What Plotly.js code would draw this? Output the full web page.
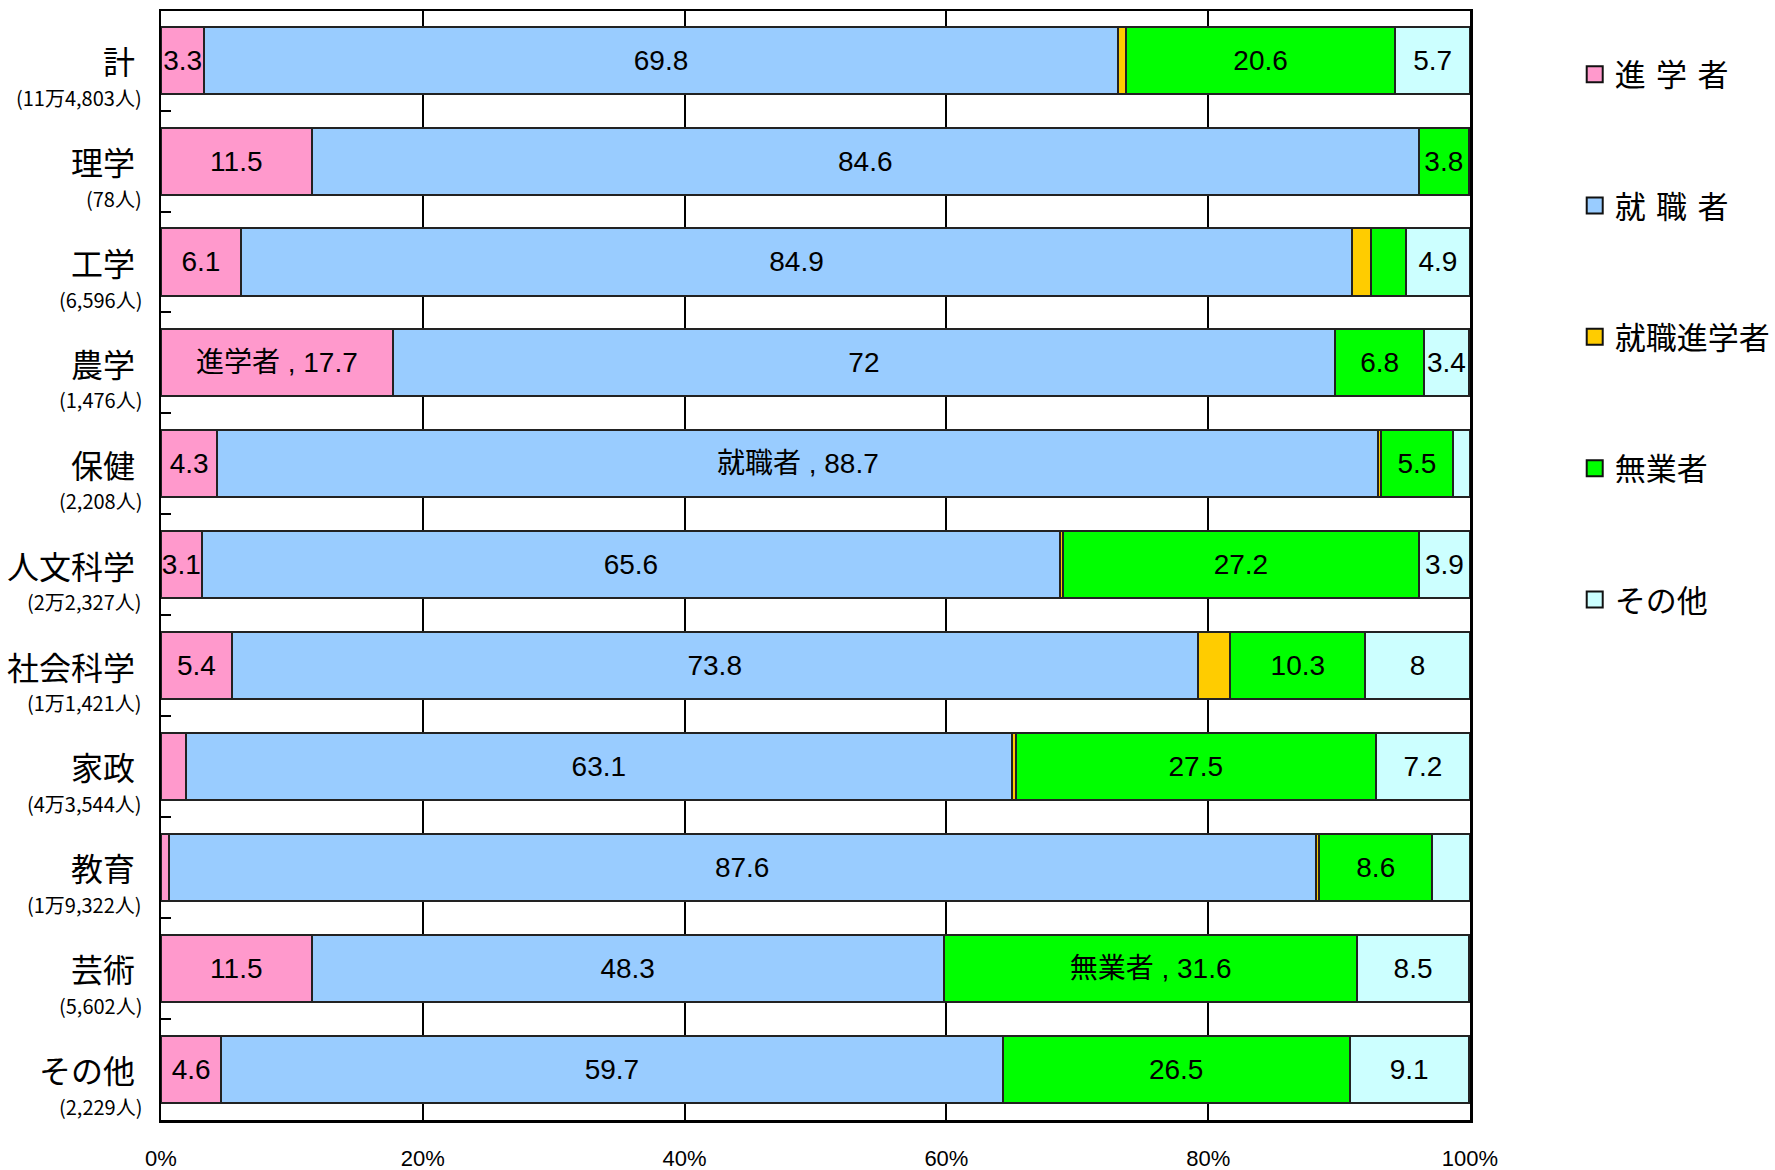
<!DOCTYPE html>
<html>
<head>
<meta charset="utf-8">
<script src="https://cdn.plot.ly/plotly-3.0.1.min.js"></script>
<style>html,body{margin:0;padding:0;background:#fff;}#chart{width:1775px;height:1170px;}</style>
</head>
<body>
<div id="chart"></div>
<script>
const categories = ['計','理学','工学','農学','保健','人文科学','社会科学','家政','教育','芸術','その他'];
const counts = ['(11万4,803人)','(78人)','(6,596人)','(1,476人)','(2,208人)','(2万2,327人)','(1万1,421人)','(4万3,544人)','(1万9,322人)','(5,602人)','(2,229人)'];
const seriesNames = ['進学者','就職者','就職進学者','無業者','その他'];
const legendNames = ['進\u2004学\u2004者','就\u2004職\u2004者','就職進学者','無業者','その他'];
const shingaku = [3.3, 11.5, 6.1, 17.7, 4.3, 3.1, 5.4, 1.9, 0.6, 11.5, 4.6];
const shushoku = [69.8, 84.6, 84.9, 72, 88.7, 65.6, 73.8, 63.1, 87.6, 48.3, 59.7];
const shushokuShingaku = [0.6, 0, 1.4, 0, 0.2, 0.2, 2.5, 0.3, 0.3, 0, 0];
const mugyo = [20.6, 3.8, 2.7, 6.8, 5.5, 27.2, 10.3, 27.5, 8.6, 31.6, 26.5];
const sonota = [5.7, 0, 4.9, 3.4, 1.3, 3.9, 8, 7.2, 2.9, 8.5, 9.1];
const namedLabels = [['農学','進学者'], ['保健','就職者'], ['芸術','無業者']];
const xTicks = [0, 20, 40, 60, 80, 100];
const xTickText = ['0%','20%','40%','60%','80%','100%'];

const seriesValues = [shingaku, shushoku, shushokuShingaku, mugyo, sonota];
const colors = ['#FF99CC', '#99CCFF', '#FFCC00', '#00FF00', '#CCFFFF'];

const traces = seriesValues.map((vals, si) => ({
  type: 'bar',
  orientation: 'h',
  name: seriesNames[si],
  showlegend: false,
  y: categories,
  x: vals,
  marker: {color: colors[si], line: {color: '#222', width: 2}},
  text: vals.map((v, ci) => {
    if (v < 3) return '';
    const named = namedLabels.some(p => p[0] === categories[ci] && p[1] === seriesNames[si]);
    return named ? seriesNames[si] + ' , ' + v : String(v);
  }),
  textposition: 'inside',
  insidetextanchor: 'middle',
  textangle: 0,
  textfont: {family: 'Liberation Sans, Noto Sans CJK JP, sans-serif', size: 28, color: '#000'},
  hoverinfo: 'skip'
}));

// legend entries (no data of their own; they only carry the legend swatches)
legendNames.forEach((n, si) => {
  traces.push({
    type: 'scatter', mode: 'markers', name: n, legendgroup: 'g' + si,
    x: [null], y: [null], showlegend: true, hoverinfo: 'skip',
    marker: {symbol: 'square', size: 16, color: colors[si], line: {color: '#111', width: 2}}
  });
});

const annotations = [];
categories.forEach((c, i) => {
  annotations.push({
    xref: 'paper', yref: 'y', x: 0, y: c, xanchor: 'right', yanchor: 'middle',
    xshift: -24, yshift: 0, showarrow: false, text: c,
    font: {family: 'Noto Sans CJK JP, sans-serif', size: 32, color: '#000'}
  });
  annotations.push({
    xref: 'paper', yref: 'y', x: 0, y: c, xanchor: 'right', yanchor: 'middle',
    xshift: -17, yshift: -37, showarrow: false, text: counts[i],
    font: {family: 'Noto Sans CJK JP, sans-serif', size: 20, color: '#000'}
  });
});

const layout = {
  width: 1775, height: 1170,
  margin: {l: 161, r: 305, t: 11, b: 50, pad: 0, autoexpand: false},
  paper_bgcolor: '#fff', plot_bgcolor: '#fff',
  barmode: 'stack',
  bargap: 0.335,
  showlegend: true,
  legend: {
    x: 1.08, xanchor: 'left', y: 0.967, yanchor: 'top',
    traceorder: 'grouped', tracegroupgap: 88, itemsizing: 'trace',
    font: {family: 'Noto Sans CJK JP, sans-serif', size: 31, color: '#000'},
    bgcolor: 'rgba(0,0,0,0)'
  },
  uniformtext: {mode: 'show', minsize: 28},
  xaxis: {
    range: [0, 100], tickvals: xTicks, ticktext: xTickText,
    showgrid: true, gridcolor: '#000', gridwidth: 2, zeroline: false,
    showline: true, linecolor: '#000', linewidth: 2.5, mirror: true,
    ticks: '', ticklabelstandoff: 17,
    tickfont: {family: 'Liberation Sans Narrow, Liberation Sans, Arial, sans-serif', size: 22, color: '#000'},
    fixedrange: true
  },
  yaxis: {
    type: 'category', range: [10.505, -0.488],
    showticklabels: false, showgrid: false, zeroline: false,
    showline: true, linecolor: '#000', linewidth: 2.5, mirror: true,
    ticks: 'inside', tickson: 'boundaries', ticklen: 10, tickwidth: 2, tickcolor: '#000',
    fixedrange: true
  },
  annotations: annotations
};

Plotly.newPlot('chart', traces, layout, {staticPlot: true, displayModeBar: false});
</script>
</body>
</html>
